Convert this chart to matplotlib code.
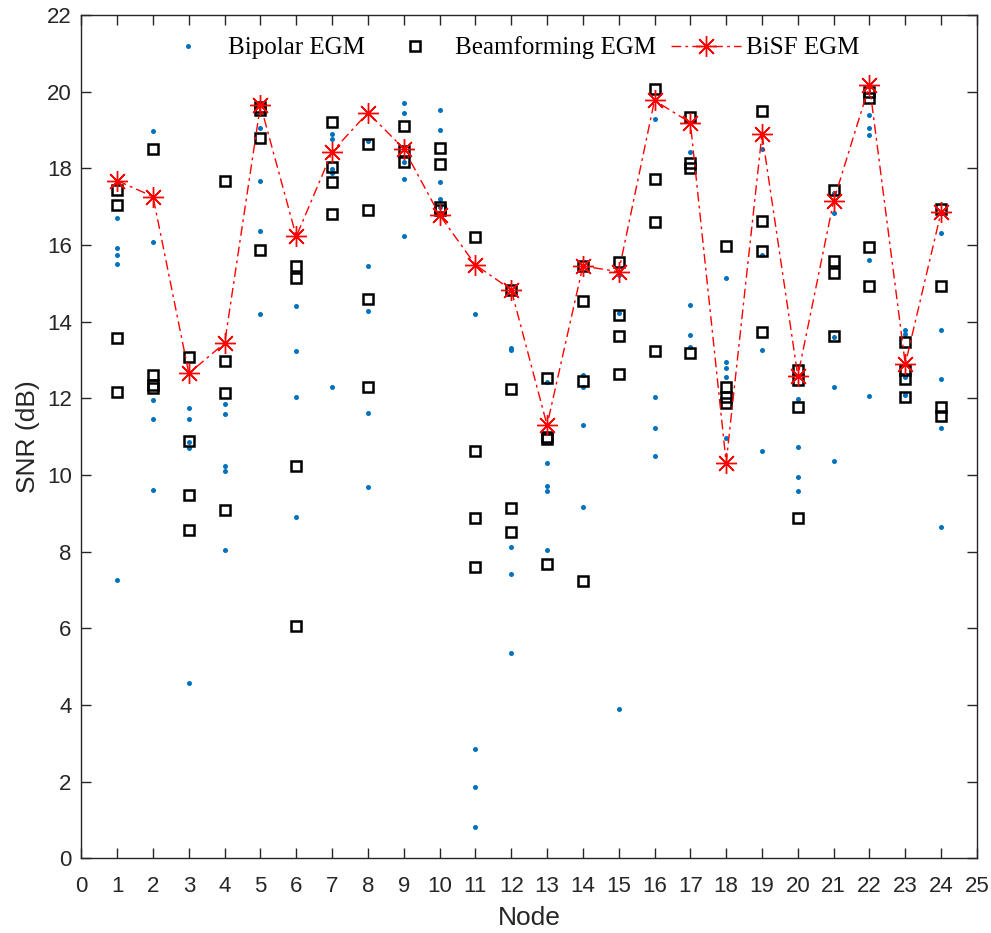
import matplotlib
matplotlib.use("Agg")
import matplotlib.pyplot as plt

nodes = list(range(1, 25))

bisf_snr = [17.68, 17.26, 12.65, 13.44, 19.65, 16.22, 18.43, 19.45, 18.51, 16.78,
            15.48, 14.83, 11.30, 15.45, 15.30, 19.77, 19.19, 10.32, 18.90, 12.58,
            17.15, 20.17, 12.89, 16.86]

bipolar_snr = [
    [16.71, 15.91, 15.73, 15.50, 7.25],
    [18.98, 16.08, 11.96, 11.47, 9.61],
    [11.74, 11.46, 10.87, 10.71, 4.58],
    [11.84, 11.59, 10.22, 10.09, 8.05],
    [19.04, 17.67, 16.36, 14.19],
    [14.41, 13.22, 12.04, 8.90],
    [18.90, 18.76, 17.97, 17.87, 12.30],
    [18.71, 15.46, 14.27, 11.62, 9.68],
    [19.71, 19.45, 18.17, 17.73, 16.23],
    [19.51, 18.99, 17.64, 17.21, 17.00],
    [14.21, 2.86, 1.87, 0.81],
    [13.31, 13.25, 8.11, 7.41, 5.36],
    [12.43, 10.32, 9.72, 9.57, 8.05],
    [12.61, 12.30, 11.30, 9.16],
    [15.22, 14.22, 3.90],
    [19.29, 12.04, 11.22, 10.50],
    [18.42, 14.42, 13.66, 13.33],
    [15.13, 12.94, 12.78, 12.55, 10.97],
    [18.50, 15.74, 13.26, 10.63],
    [11.97, 10.73, 9.94, 9.58],
    [17.35, 16.83, 13.60, 12.30, 10.37],
    [19.39, 19.06, 18.88, 15.60, 12.05],
    [13.77, 13.67, 12.55, 12.08],
    [16.31, 13.77, 12.50, 11.23, 8.65],
]

beamforming_snr = [
    [17.42, 17.04, 13.56, 12.16],
    [18.50, 12.61, 12.35, 12.28],
    [13.08, 10.89, 9.48, 8.57],
    [17.67, 12.96, 12.13, 9.09],
    [19.60, 19.52, 18.80, 15.87],
    [15.46, 15.13, 10.22, 6.07],
    [19.20, 18.04, 17.65, 16.81],
    [18.63, 16.91, 14.58, 12.30],
    [19.11, 18.45, 18.17],
    [18.52, 18.11, 17.00, 16.90],
    [16.21, 10.63, 8.88, 7.60],
    [14.83, 12.24, 9.15, 8.51],
    [12.52, 11.00, 10.95, 7.67],
    [15.44, 14.55, 12.45, 7.23],
    [15.56, 14.17, 13.63, 12.63],
    [20.06, 17.72, 16.59, 13.24],
    [19.33, 18.15, 18.00, 13.17],
    [15.97, 12.30, 12.04, 11.87],
    [19.50, 16.63, 15.85, 13.72],
    [12.74, 12.48, 11.78, 8.87],
    [17.44, 15.57, 15.26, 13.63],
    [20.00, 19.83, 15.94, 14.93],
    [13.46, 12.74, 12.50, 12.03],
    [16.94, 14.92, 11.78, 11.54],
]

x_ticks = list(range(0, 26))
y_ticks = list(range(0, 23, 2))

axc = (0.15, 0.15, 0.15)
plt.rcParams['font.family'] = ['Liberation Sans', 'DejaVu Sans']

fig = plt.figure(figsize=(9.91, 9.33), dpi=100)
ax = fig.add_axes([0.0821, 0.0801, 0.9037, 0.9039])

bx = [n for n, vals in zip(nodes, bipolar_snr) for _ in vals]
by = [v for vals in bipolar_snr for v in vals]
mx = [n for n, vals in zip(nodes, beamforming_snr) for _ in vals]
my = [v for vals in beamforming_snr for v in vals]

h1, = ax.plot(bx, by, linestyle='none', marker='o', ms=3.6, mew=0,
              color=(0, 0.447, 0.741), label='Bipolar EGM')
h2, = ax.plot(mx, my, linestyle='none', marker='s', ms=7.2, mew=1.8,
              mfc='none', mec='black', label='Beamforming EGM')
h3, = ax.plot(nodes, bisf_snr, linestyle=(0, (7, 3, 2, 3)), lw=1.0, color='red',
              marker=(8, 2, 0), ms=15, mew=1.0, mec='red', label='BiSF EGM')

ax.set_xlim(0, 25)
ax.set_ylim(0, 22)
ax.set_xticks(x_ticks)
ax.set_yticks(y_ticks)
ax.tick_params(direction='in', length=7, width=1, colors=axc, labelsize=16,
               top=True, right=True)
ax.tick_params(axis='x', pad=13)
ax.tick_params(axis='y', pad=7)
for s in ax.spines.values():
    s.set_color(axc)
    s.set_linewidth(1.0)

ax.set_xlabel('Node', fontsize=19, color=axc, labelpad=6)
ax.set_ylabel('SNR (dB)', fontsize=19, color=axc, labelpad=5)

leg = fig.legend(handles=[h1, h2, h3], loc='center',
                 bbox_to_anchor=(506 / 991, 1 - 48 / 933),
                 bbox_transform=fig.transFigure, ncol=3, frameon=False,
                 prop={'family': 'Liberation Serif', 'size': 18},
                 handlelength=2.8, handletextpad=0.2, columnspacing=0.6,
                 borderaxespad=0, borderpad=0)

fig.savefig('out.png', dpi=100)
